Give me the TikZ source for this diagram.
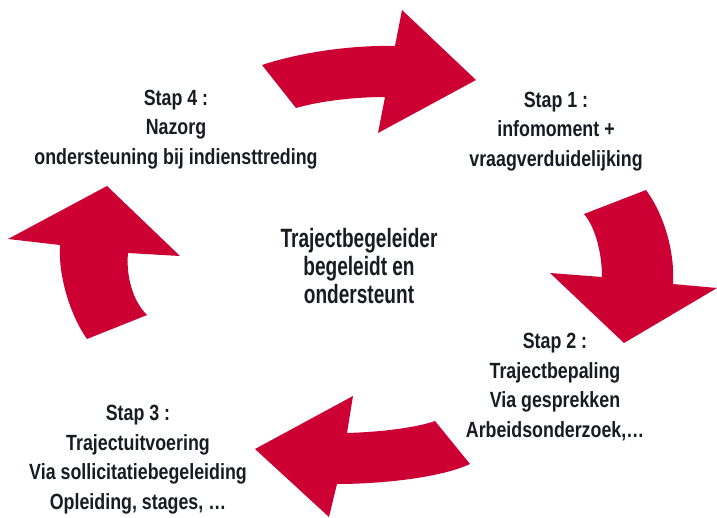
\documentclass[tikz,border=0pt]{standalone}
\usepackage{fontspec}
\setmainfont{Liberation Sans}
\newfontfamily\stapfont{Liberation Sans}[FakeStretch=0.81]
\newfontfamily\middenfont{Liberation Sans}[FakeStretch=0.72]
\definecolor{pijlrood}{RGB}{204,0,51}
\definecolor{tekstkleur}{RGB}{22,28,34}
\tikzset{
pijl/.style={fill=pijlrood, draw=none},
stap/.style={anchor=base, align=center, inner sep=0pt, text=tekstkleur,
	font=\stapfont\bfseries\fontsize{22}{29.5}\selectfont},
midden/.style={anchor=base, align=center, inner sep=0pt, text=tekstkleur,
	font=\middenfont\bfseries\fontsize{26.5}{28}\selectfont}
}
\begin{document}
\begin{tikzpicture}[x=1pt, y=-1pt]
\useasboundingbox (0,0) rectangle (717,517);

%the four arrows of the cycle
\fill[pijl] (262,65) .. controls (295,54) and (345,45) .. (395,46) -- (402,10) -- (476,80)
	-- (378,133) -- (385,97) .. controls (355,97) and (320,101) .. (296,108) -- cycle;
\fill[pijl] (646,190) .. controls (663,213) and (675,250) .. (673,284) -- (717,288) -- (624,343)
	-- (550,273) -- (602,277) .. controls (602,255) and (596,228) .. (584,214) -- cycle;
\fill[pijl] (470,464) .. controls (440,478) and (380,484) .. (337,484) -- (329,517) -- (255,449)
	-- (353,396) -- (347,433) .. controls (380,432) and (415,428) .. (435,421) -- cycle;
\fill[pijl] (87,339) .. controls (70,315) and (58,275) .. (60,245) -- (8,239) -- (107,186)
	-- (180,256) -- (128,253) .. controls (126,275) and (132,300) .. (147,315) -- cycle;

%texts (base = baseline of the last line)
\node[stap] (s1) at (556,166) {Stap 1 :\\infomoment +\\vraagverduidelijking};
\node[stap] (s2) at (555,437) {Stap 2 :\\Trajectbepaling\\Via gesprekken\\Arbeidsonderzoek,\dots};
\node[stap] (s3) at (138,509) {Stap 3 :\\Trajectuitvoering\\Via sollicitatiebegeleiding\\Opleiding, stages, \dots};
\node[stap] (s4) at (176,164) {Stap 4 :\\Nazorg\\ondersteuning bij indiensttreding};
\node[midden] (m) at (359,303) {Trajectbegeleider\\begeleidt en\\ondersteunt};
\end{tikzpicture}
\end{document}
